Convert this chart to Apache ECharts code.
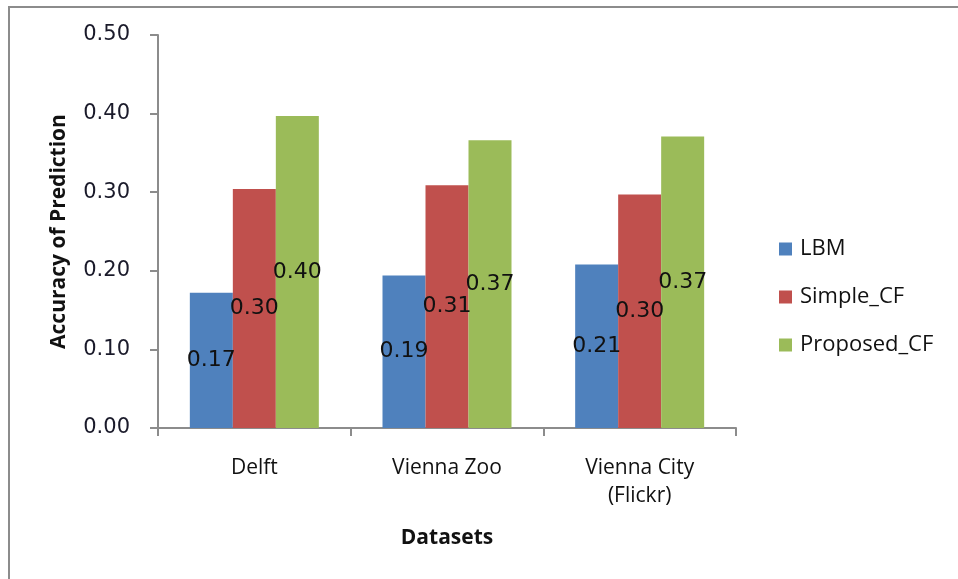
<!DOCTYPE html>
<html>
<head>
<meta charset="utf-8">
<script src="https://cdn.jsdelivr.net/npm/echarts@6/dist/echarts.min.js"></script>
<style>
  html, body { margin: 0; padding: 0; background: #fff; }
  #frame { position: absolute; left: 8px; top: 6px; right: 0; bottom: 0;
           border-left: 2px solid #8c8c8c; border-top: 2px solid #8c8c8c; }
  #chart { position: absolute; left: 0; top: 0; width: 958px; height: 579px; }
</style>
</head>
<body>
<div id="frame"></div>
<div id="chart"></div>
<script>
// Prediction accuracy per dataset and method
const categories = ['Delft', 'Vienna Zoo', 'Vienna City\n(Flickr)'];
const seriesNames = ['LBM', 'Simple_CF', 'Proposed_CF'];
const lbm = [0.172, 0.194, 0.208];
const simpleCF = [0.304, 0.309, 0.297];
const proposedCF = [0.397, 0.366, 0.371];
const yTicks = [0, 0.1, 0.2, 0.3, 0.4, 0.5];

const colors = ['#4F81BD', '#C0504D', '#9BBB59'];
const numFont = 'DejaVu Sans';
const textFont = 'Open Sans';

function barSeries(name, values, color) {
  return {
    name: name,
    type: 'bar',
    data: values,
    barWidth: 43,
    barGap: '0%',
    itemStyle: { color: color },
    label: {
      show: true,
      position: 'inside',
      formatter: p => p.value.toFixed(2),
      color: '#111',
      fontFamily: numFont,
      fontSize: 22
    }
  };
}

const chart = echarts.init(document.getElementById('chart'), null, { renderer: 'canvas' });
chart.setOption({
  animation: false,
  grid: { left: 158, right: 222, top: 35, bottom: 151 },
  legend: {
    orient: 'vertical',
    left: 774,
    top: 233,
    itemWidth: 13,
    itemHeight: 13,
    itemGap: 26,
    icon: 'rect',
    data: seriesNames,
    textStyle: { fontFamily: textFont, fontSize: 22, color: '#111', padding: [0, 0, 0, 3] }
  },
  xAxis: {
    type: 'category',
    data: categories,
    name: 'Datasets',
    nameLocation: 'middle',
    nameGap: 100,
    nameTextStyle: { fontFamily: textFont, fontSize: 21, fontWeight: 'bold', color: '#111' },
    axisLine: { lineStyle: { color: '#8c8c8c', width: 2 } },
    axisTick: { show: true, length: 8, lineStyle: { color: '#8c8c8c', width: 2 } },
    axisLabel: { margin: 26, fontFamily: textFont, fontSize: 21, color: '#111', lineHeight: 28 }
  },
  yAxis: {
    type: 'value',
    min: yTicks[0],
    max: yTicks[yTicks.length - 1],
    interval: 0.1,
    name: 'Accuracy of Prediction',
    nameLocation: 'middle',
    nameGap: 88,
    nameTextStyle: { fontFamily: textFont, fontSize: 21, fontWeight: 'bold', color: '#111' },
    axisLine: { show: true, lineStyle: { color: '#8c8c8c', width: 2 } },
    axisTick: { show: true, length: 8, lineStyle: { color: '#8c8c8c', width: 2 } },
    splitLine: { show: false },
    axisLabel: {
      margin: 28,
      fontFamily: numFont,
      fontSize: 21,
      color: '#1a1a2a',
      formatter: v => v.toFixed(2)
    }
  },
  series: [
    barSeries(seriesNames[0], lbm, colors[0]),
    barSeries(seriesNames[1], simpleCF, colors[1]),
    barSeries(seriesNames[2], proposedCF, colors[2])
  ]
});
</script>
</body>
</html>
